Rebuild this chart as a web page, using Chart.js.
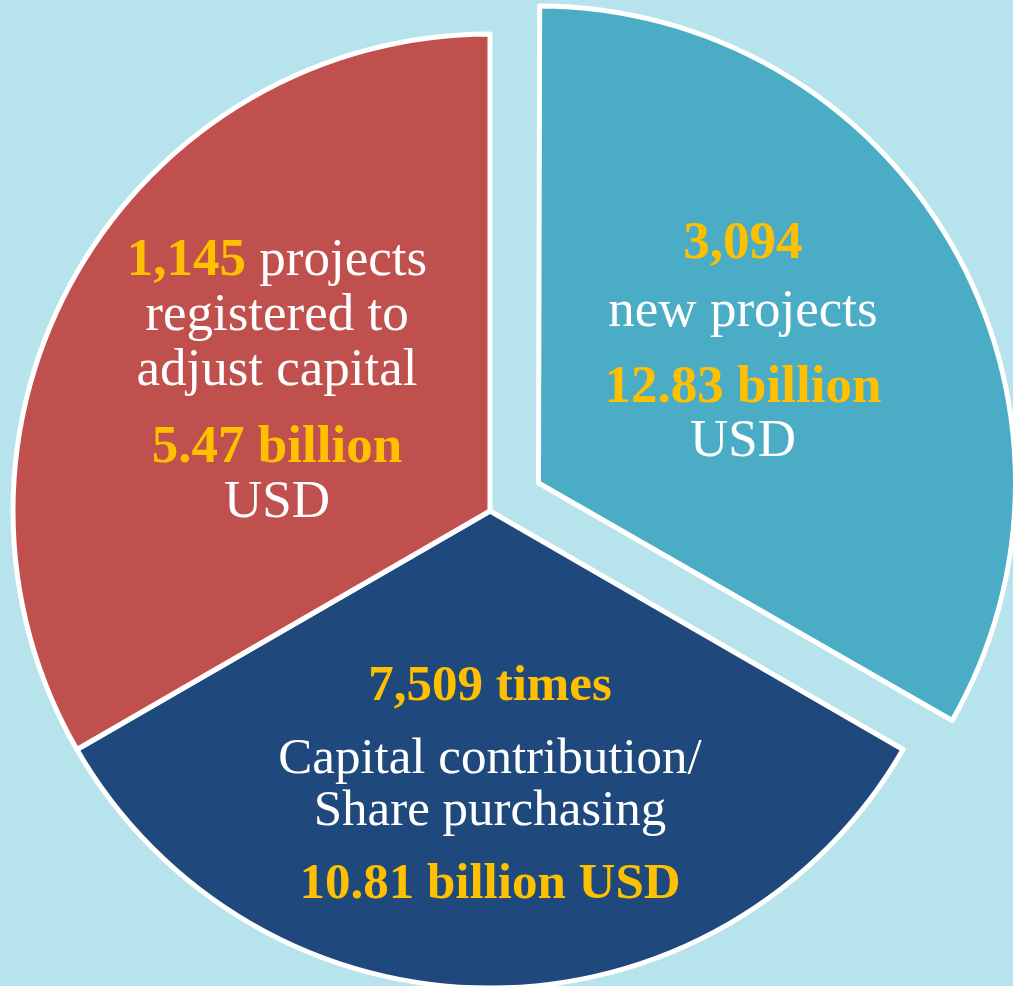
<!DOCTYPE html>
<html>
<head>
<meta charset="utf-8">
<script src="https://cdn.jsdelivr.net/npm/chart.js@4.4.1/dist/chart.umd.min.js"></script>
<style>
  html, body { margin: 0; padding: 0; background: #b7e4ec; overflow: hidden; }
  #wrap { position: relative; width: 1013px; height: 986px; }
</style>
</head>
<body>
<div id="wrap"><canvas id="c"></canvas></div>
<script>
// ---- data ----
const categories = ['New projects', 'Capital contribution / Share purchasing', 'Capital adjustment'];
const sliceWeights = [1, 1, 1];              // the three slices are equal thirds
const projectCounts = ['3,094', '7,509', '1,145'];
const capitalBillionUSD = ['12.83', '10.81', '5.47'];

// ---- styles ----
const sliceColors = ['#4bacc6', '#1f497d', '#c0504d'];
const sliceOffsets = [224, 0, 0];            // Chart.js v4 translates by offset/4
const fontFamily = '"Liberation Serif", "Times New Roman", serif';
const labelFontSizes = [53, 51, 53];
const textColors = { hi: '#ffc000', tx: '#ffffff' };

// label lines built from the data arrays
const labelLines = [
  [[[projectCounts[0], 'hi']], [['new projects', 'tx']], [[capitalBillionUSD[0] + ' billion', 'hi']], [['USD', 'tx']]],
  [[[projectCounts[1] + ' times', 'hi']], [['Capital contribution/', 'tx']], [['Share purchasing', 'tx']], [[capitalBillionUSD[1] + ' billion USD', 'hi']]],
  [[[projectCounts[2], 'hi'], [' projects', 'tx']], [['registered to', 'tx']], [['adjust capital', 'tx']], [[capitalBillionUSD[2] + ' billion', 'hi']], [['USD', 'tx']]]
];
// label placement relative to each slice's drawn centre
const labelLayout = [
  { dx: 204.5, dy: [-225, -157, -81, -27] },
  { dx: 0, dy: [189, 262, 314, 387] },
  { dx: -213, dy: [-236, -181, -126, -49, 6] }
];

function fontFor(style, size) {
  return (style === 'hi' ? 'bold ' : '') + size + 'px ' + fontFamily;
}

// keep the exploded slice at the same radius as the others
const radiusFix = {
  id: 'radiusFix',
  afterDatasetUpdate(chart, args) {
    const meta = chart.getDatasetMeta(args.index);
    meta.data.forEach(el => {
      const off = (el.options.offset || 0) / 4;
      if (!off) return;
      const fix = 1 - Math.sin(Math.min(Math.PI, el.circumference || 0));
      el.outerRadius = el.outerRadius - off * fix;
    });
  }
};

const sliceLabels = {
  id: 'sliceLabels',
  afterDatasetsDraw(chart) {
    const ctx = chart.ctx;
    const meta = chart.getDatasetMeta(0);
    ctx.save();
    ctx.textBaseline = 'alphabetic';
    ctx.textAlign = 'left';
    meta.data.forEach((el, i) => {
      const mid = (el.startAngle + el.endAngle) / 2;
      const off = (el.options.offset || 0) / 4;
      const cx = el.x + Math.cos(mid) * off;
      const cy = el.y + Math.sin(mid) * off;
      const lay = labelLayout[i];
      const size = labelFontSizes[i];
      labelLines[i].forEach((segs, j) => {
        let total = 0;
        const widths = segs.map(([t, s]) => {
          ctx.font = fontFor(s, size);
          const w = ctx.measureText(t).width;
          total += w;
          return w;
        });
        let x = cx + lay.dx - total / 2;
        const y = cy + lay.dy[j];
        segs.forEach(([t, s], k) => {
          ctx.font = fontFor(s, size);
          ctx.fillStyle = textColors[s];
          ctx.fillText(t, x, y);
          x += widths[k];
        });
      });
    });
    ctx.restore();
  }
};

new Chart(document.getElementById('c'), {
  type: 'pie',
  data: {
    labels: categories,
    datasets: [{
      data: sliceWeights,
      backgroundColor: sliceColors,
      borderColor: '#ffffff',
      borderWidth: 5,
      borderJoinStyle: 'round',
      offset: sliceOffsets,
      hoverOffset: 0
    }]
  },
  options: {
    responsive: true,
    maintainAspectRatio: false,
    animation: false,
    radius: 477,
    layout: { padding: { left: 0, right: 33, top: 36, bottom: 0 } },
    plugins: {
      legend: { display: false },
      tooltip: { enabled: false }
    },
    events: []
  },
  plugins: [radiusFix, sliceLabels]
});
</script>
</body>
</html>
